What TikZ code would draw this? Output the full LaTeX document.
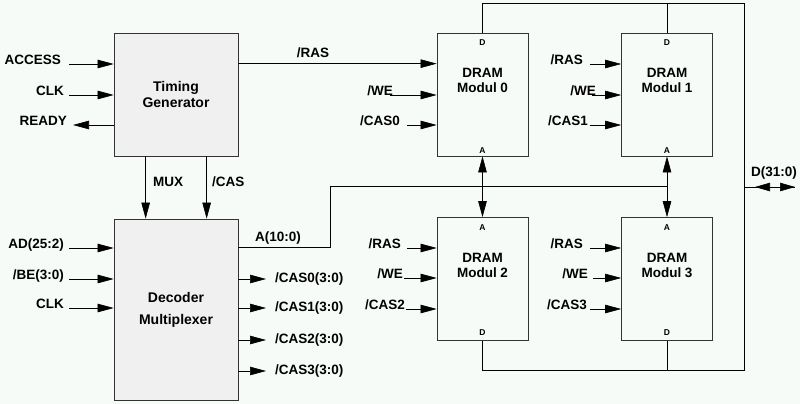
\documentclass[tikz,border=0pt]{standalone}
\usepackage{fontspec}
\setmainfont{Liberation Sans}
\usetikzlibrary{arrows.meta,positioning}
\definecolor{hinter}{RGB}{247,251,247}
\definecolor{kasten}{RGB}{240,240,240}
\newcommand{\pfeil}{\draw[-{Triangle[length=16pt,width=8.5pt]},line width=0.6pt]}
\newcommand{\doppel}{\draw[{Triangle[length=16pt,width=8.5pt]}-{Triangle[length=16pt,width=8.5pt]},line width=0.6pt]}

\begin{document}
\begin{tikzpicture}[x=1pt,y=-1pt,
    sig/.style={font=\fontsize{13.5}{15}\selectfont\bfseries,inner sep=1pt},
    pin/.style={font=\fontsize{8.5}{10}\selectfont\bfseries,inner sep=0pt},
    block/.style={draw=black!80,line width=0.7pt,minimum width=124pt,fill=kasten,
                  font=\fontsize{14}{16}\selectfont\bfseries,align=center},
    modul/.style={draw=black!80,line width=0.7pt,minimum width=91pt,minimum height=123pt},
    bus/.style={line width=0.6pt}]
      \useasboundingbox (0,0) rectangle (800,404);
      \fill[hinter] (0,0) rectangle (800,404);

      % Steuerung
      \node(tg) [block,minimum height=123pt] at (176,94.5)  {Timing\\Generator};
      \node(dm) [block,minimum height=181pt] at (176,309.5) {Decoder\\[6pt]Multiplexer};

      % DRAM Module
      \node(m0) [modul] at (482.5,94.5) {};
      \node(m1) [modul] at (667,94.5)   {};
      \node(m2) [modul] at (482.5,279)  {};
      \node(m3) [modul] at (667,279)    {};
      \node(t0) [sig,align=center] at ([yshift=14pt]m0.center) {DRAM\\Modul 0};
      \node(t1) [sig,align=center] at ([yshift=14pt]m1.center) {DRAM\\Modul 1};
      \node(t2) [sig,align=center] at ([yshift=14pt]m2.center) {DRAM\\Modul 2};
      \node(t3) [sig,align=center] at ([yshift=14pt]m3.center) {DRAM\\Modul 3};
      \node(d0) [pin] at ([yshift=-10pt]m0.north) {D};
      \node(a0) [pin] at ([yshift=6pt]m0.south)   {A};
      \node(d1) [pin] at ([yshift=-10pt]m1.north) {D};
      \node(a1) [pin] at ([yshift=6pt]m1.south)   {A};
      \node(a2) [pin] at ([yshift=-10pt]m2.north) {A};
      \node(d2) [pin] at ([yshift=8pt]m2.south)   {D};
      \node(a3) [pin] at ([yshift=-10pt]m3.north) {A};
      \node(d3) [pin] at ([yshift=8pt]m3.south)   {D};

      % Eingaenge Timing Generator
      \node(access) [sig,anchor=base east] at (62,64)  {ACCESS};
      \node(clka)   [sig,anchor=base east] at (65,95)  {CLK};
      \node(ready)  [sig,anchor=base east] at (68,125) {READY};
      \pfeil([xshift=7pt]access.base east) -- (access.base -| tg.west);
      \pfeil([xshift=4pt]clka.base east) -- (clka.base -| tg.west);
      \pfeil(ready.base -| tg.west) -- ([xshift=5pt]ready.base east);

      % Eingaenge Decoder
      \node(ad)   [sig,anchor=base east] at (65,248) {AD(25:2)};
      \node(be)   [sig,anchor=base east] at (65,279) {/BE(3:0)};
      \node(clkb) [sig,anchor=base east] at (65,308) {CLK};
      \pfeil([xshift=4pt]ad.base east) -- (ad.base -| dm.west);
      \pfeil([xshift=4pt]be.base east) -- (be.base -| dm.west);
      \pfeil([xshift=4pt]clkb.base east) -- (clkb.base -| dm.west);

      % Ausgaenge Decoder
      \node(cas0) [sig,anchor=west] at (274,279) {/CAS0(3:0)};
      \node(cas1) [sig,anchor=west] at (274,308) {/CAS1(3:0)};
      \node(cas2) [sig,anchor=west] at (274,340) {/CAS2(3:0)};
      \node(cas3) [sig,anchor=west] at (274,371) {/CAS3(3:0)};
      \pfeil(cas0.west -| dm.east) -- ([xshift=-8pt]cas0.west);
      \pfeil(cas1.west -| dm.east) -- ([xshift=-8pt]cas1.west);
      \pfeil(cas2.west -| dm.east) -- ([xshift=-8pt]cas2.west);
      \pfeil(cas3.west -| dm.east) -- ([xshift=-8pt]cas3.west);

      % MUX, /CAS, /RAS
      \coordinate(muxo) at ([xshift=32pt]tg.south west);
      \coordinate(caso) at ([xshift=93pt]tg.south west);
      \node(mux) [sig,anchor=west] at (152,182) {MUX};
      \node(cas) [sig,anchor=west] at (211,182) {/CAS};
      \pfeil(muxo) -- (muxo |- dm.north);
      \pfeil(caso) -- (caso |- dm.north);
      \coordinate(raso) at ([yshift=-31pt]tg.north east);
      \node(ras0) [sig] at (313,53) {/RAS};
      \pfeil(raso) -- (raso -| m0.west);

      % Eingaenge Modul 0 und 1
      \node(we0)   [sig,anchor=base east] at (394,95)  {/WE};
      \node(c0)    [sig,anchor=base east] at (401,125) {/CAS0};
      \node(ras1)  [sig,anchor=base east] at (584,64)  {/RAS};
      \node(we1)   [sig,anchor=base east] at (597,95)  {/WE};
      \node(c1)    [sig,anchor=base east] at (589,125) {/CAS1};
      \pfeil([xshift=-4pt]we0.base east) -- (we0.base -| m0.west);
      \pfeil([xshift=6pt]c0.base east) -- (c0.base -| m0.west);
      \pfeil([xshift=6pt]ras1.base east) -- (ras1.base -| m1.west);
      \pfeil([xshift=-5pt]we1.base east) -- (we1.base -| m1.west);
      \pfeil([xshift=1pt]c1.base east) -- (c1.base -| m1.west);

      % Eingaenge Modul 2 und 3
      \node(ras2)  [sig,anchor=base east] at (402,248) {/RAS};
      \node(we2)   [sig,anchor=base east] at (404,278) {/WE};
      \node(c2)    [sig,anchor=base east] at (406,309) {/CAS2};
      \node(ras3)  [sig,anchor=base east] at (584,248) {/RAS};
      \node(we3)   [sig,anchor=base east] at (589,278) {/WE};
      \node(c3)    [sig,anchor=base east] at (588,309) {/CAS3};
      \pfeil([xshift=5pt]ras2.base east) -- (ras2.base -| m2.west);
      \pfeil([xshift=0pt]we2.base east) -- (we2.base -| m2.west);
      \pfeil([xshift=0pt]c2.base east) -- (c2.base -| m2.west);
      \pfeil([xshift=6pt]ras3.base east) -- (ras3.base -| m3.west);
      \pfeil([xshift=4pt]we3.base east) -- (we3.base -| m3.west);
      \pfeil([xshift=2pt]c3.base east) -- (c3.base -| m3.west);

      % Adressbus
      \node(abus) [sig] at (278,238) {A(10:0)};
      \coordinate(aknick) at (330,186);
      \draw[bus] ([yshift=-29pt]dm.north east) -| (aknick) -- (aknick -| m1.south);
      \doppel(m0.south) -- (m2.north);
      \doppel(m1.south) -- (m3.north);

      % Datenbus
      \coordinate(doben)  at (744,3);
      \coordinate(dunten) at (744,370);
      \coordinate(dende)  at (795,187);
      \draw[bus] (m0.north) |- (doben) -- (dunten) -| (m2.south);
      \draw[bus] (m1.north) -- (m1.north |- doben);
      \draw[bus] (m3.south) -- (m3.south |- dunten);
      \draw[bus] (dunten |- dende) -- (dende);
      \draw[{Triangle[length=15pt,width=8.5pt]}-{Triangle[length=15pt,width=8.5pt]},line width=0.6pt]
            ([xshift=11pt]dunten |- dende) -- (dende);
      \node(dlab) [sig] at (774,173) {D(31:0)};
   \end{tikzpicture}
\end{document}
